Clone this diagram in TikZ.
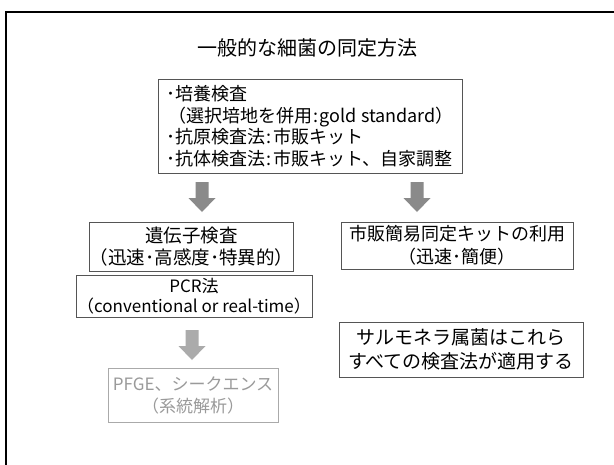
\documentclass[tikz,border=0pt]{standalone}
\usepackage{fontspec}
\setmainfont{Noto Sans CJK JP}
\definecolor{boxline}{HTML}{555555}
\definecolor{arrowgray}{HTML}{8A8A8A}
\definecolor{lightarrow}{HTML}{ABABAB}
\definecolor{fadetext}{HTML}{9A9A9A}
\definecolor{fadeline}{HTML}{AAAAAA}
\newcommand\cl{\kern0.08em:\kern0.08em}
\newcommand\bldarrow[2]{\fill[#2] (#1) ++(-6.5,0) -- ++(13,0) -- ++(0,16) -- ++(7,0) -- ++(-13.5,14) -- ++(-13.5,-14) -- ++(7,0) -- cycle;}
\begin{document}
\begin{tikzpicture}[x=1pt,y=-1pt,
  box/.style={draw=boxline, line width=0.8pt, inner sep=0pt, align=center, text=black},
  fadebox/.style={draw=fadeline, line width=0.8pt, inner sep=0pt, align=center, text=fadetext}]
\useasboundingbox (0,0) rectangle (614,464);
\fill[white] (0,0) rectangle (614,464);
% page frame
\draw[line width=1.8pt, black] (6,480) -- (6,12) -- (630,12);
% title
\node[font=\fontsize{20}{24}\selectfont] (title) at (307,48) {一般的な細菌の同定方法};
% top box
\node[box, minimum width=304, minimum height=94, align=left,
      font=\fontsize{18}{21.5}\selectfont] (top) at (310,126)
  {･培養検査\\\hspace*{0.1em}（選択培地を併用\cl gold standard）\\･抗原検査法\cl 市販キット\\･抗体検査法\cl 市販キット、自家調整};
% arrows
\coordinate (arrL) at (202,182);
\coordinate (arrR) at (417,182);
\coordinate (arrP) at (192,330);
\bldarrow{arrL}{arrowgray}
\bldarrow{arrR}{arrowgray}
\bldarrow{arrP}{lightarrow}
% gene box
\node[box, minimum width=195, minimum height=49, font=\fontsize{18.5}{22}\selectfont] (gene) at (191.5,246.5)
  {遺伝子検査\\（迅速･高感度･特異的）};
% kit box
\node[box, minimum width=232, minimum height=47, font=\fontsize{18}{22.5}\selectfont] (kit) at (457,245.5)
  {市販簡易同定キットの利用\\（迅速･簡便）};
% PCR box
\node[box, minimum width=236, minimum height=42, font=\fontsize{17}{20}\selectfont] (pcr) at (194,296)
  {PCR法\\（conventional or real-time）};
% PFGE box
\node[fadebox, minimum width=170, minimum height=54, font=\fontsize{17}{22}\selectfont] (pfge) at (193,395)
  {PFGE、シークエンス\\（系統解析）};
% salmonella box
\node[box, minimum width=244, minimum height=55, font=\fontsize{19}{24}\selectfont] (sal) at (461,349.5)
  {サルモネラ属菌はこれら\\すべての検査法が適用する};
\end{tikzpicture}
\end{document}
